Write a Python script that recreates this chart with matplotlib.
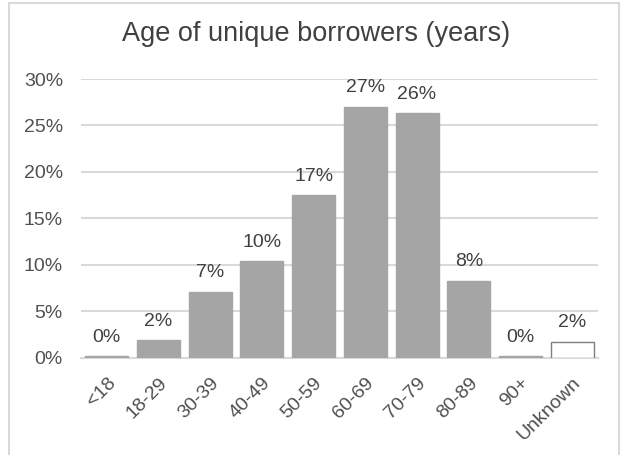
import matplotlib
matplotlib.use("Agg")
import matplotlib.pyplot as plt
from matplotlib.patches import Rectangle

categories = ["<18", "18-29", "30-39", "40-49", "50-59", "60-69", "70-79", "80-89", "90+", "Unknown"]
values = [0.15, 1.9, 7.1, 10.4, 17.5, 27.0, 26.3, 8.3, 0.15, 1.7]
labels = ["0%", "2%", "7%", "10%", "17%", "27%", "26%", "8%", "0%", "2%"]
yticks = [0, 5, 10, 15, 20, 25, 30]

plt.rcParams['font.family'] = ['Liberation Sans', 'DejaVu Sans']

fig = plt.figure(figsize=(6.21, 4.55), dpi=100)
fig.patch.set_facecolor("white")
fig.add_artist(Rectangle((9/621, -0.1), (619-9)/621, 1.1 - 3/455, transform=fig.transFigure,
                         fill=False, edgecolor="#d9d9d9", linewidth=1.5))

ax = fig.add_axes([81/621, 1-357.7/455, (598-81)/621, (357.7-79)/455])
x = list(range(len(categories)))
face = ["#a5a5a5"] * (len(categories) - 1) + ["white"]
edge = ["#a5a5a5"] * (len(categories) - 1) + ["#7f7f7f"]
ax.bar(x, values, width=0.83, color=face, edgecolor=edge, linewidth=1.0, zorder=3)

for xi, v, lab in zip(x, values, labels):
    ax.annotate(lab, (xi, v), xytext=(0, 7.5), textcoords="offset points",
                ha="center", va="bottom", fontsize=14, color="#404040")

ax.set_ylim(0, 30)
ax.set_xlim(-0.5, len(categories) - 0.5)
ax.set_yticks(yticks)
ax.set_yticklabels([f"{t}%" for t in yticks], fontsize=14, color="#505050")
ax.set_xticks(x)
ax.set_xticklabels(categories, rotation=45, ha="right", rotation_mode="anchor",
                   fontsize=14, color="#505050")
ax.tick_params(axis="both", length=0)
ax.tick_params(axis="y", pad=13)
ax.tick_params(axis="x", pad=12)
ax.grid(axis="y", color="#d9d9d9", linewidth=1.5, zorder=0)
for s in ["top", "right", "left"]:
    ax.spines[s].set_visible(False)
ax.spines["bottom"].set_color("#d9d9d9")
ax.spines["bottom"].set_linewidth(1.5)

fig.text(316/621, 1-34/455, "Age of unique borrowers (years)", ha="center", va="center",
         fontsize=19.5, color="#404040")

fig.savefig("out.png", dpi=100, facecolor="white")
